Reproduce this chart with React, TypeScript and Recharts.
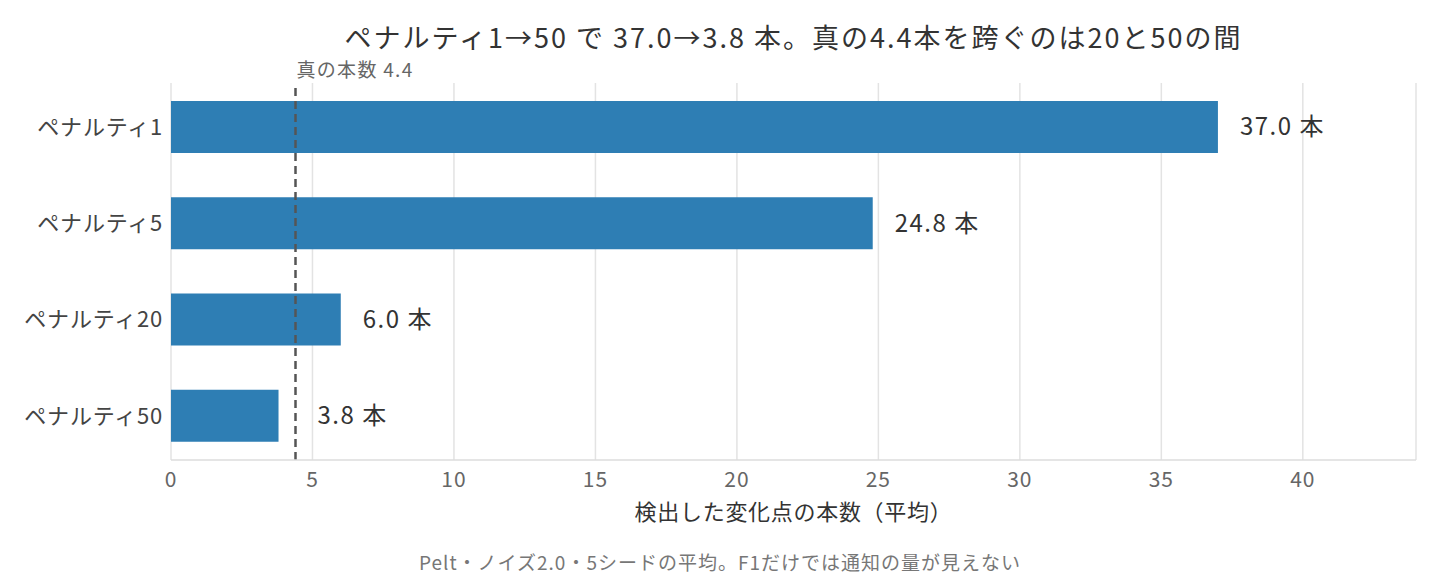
import React from "react";
import { BarChart, Bar, XAxis, YAxis, CartesianGrid, ReferenceLine, LabelList } from "recharts";

const categories = ["ペナルティ1", "ペナルティ5", "ペナルティ20", "ペナルティ50"];
const counts = [37.0, 24.8, 6.0, 3.8];
const xTicks = [0, 5, 10, 15, 20, 25, 30, 35, 40];
const trueCount = 4.4;
const titleText = "ペナルティ1→50 で 37.0→3.8 本。真の4.4本を跨ぐのは20と50の間";
const xLabel = "検出した変化点の本数（平均）";
const footnote = "Pelt・ノイズ2.0・5シードの平均。F1だけでは通知の量が見えない";
const refLabel = "真の本数 4.4";

const data = categories.map((c, i) => ({ name: c, value: counts[i] }));

const FONT = '"Noto Sans CJK JP", "Noto Sans", sans-serif';

const RefLabel = (props: any) => {
  const { viewBox } = props;
  return (
    <text x={viewBox.x + 1} y={viewBox.y - 6} fill="#666" fontSize={19} letterSpacing={1.3} fontFamily={FONT} textAnchor="start">
      {refLabel}
    </text>
  );
};

const BarValueLabel = (props: any) => {
  const { x, y, width, height, value } = props;
  const v = Number(value);
  const end = Number(x) + Number(width);
  const refPx = Number(x) + (Number(width) * trueCount) / v;
  const lx = Math.max(end, refPx) + 22;
  return (
    <text
      x={lx}
      y={Number(y) + Number(height) / 2}
      dy="0.35em"
      fill="#333"
      fontSize={24}
      letterSpacing={1.5}
      fontFamily={FONT}
      textAnchor="start"
    >
      {`${v.toFixed(1)} 本`}
    </text>
  );
};

export default function App() {
  return (
    <div style={{ position: "absolute", left: 0, top: 0, width: 1440, height: 576, background: "#fff", fontFamily: FONT }}>
      <div style={{ position: "absolute", left: 171, width: 1245, top: 23, textAlign: "center", fontSize: 27, letterSpacing: 2, color: "#333", whiteSpace: "nowrap", lineHeight: "28px" }}>
        {titleText}
      </div>
      <BarChart
        width={1440}
        height={576}
        data={data}
        layout="vertical"
        margin={{ top: 83, right: 24, bottom: 86, left: 21 }}
        barCategoryGap={0}
      >
        <CartesianGrid horizontal={false} vertical={true} stroke="#e3e3e3" strokeWidth={1.5} />
        <XAxis
          type="number"
          dataKey="value"
          domain={[0, 44]}
          ticks={xTicks}
          allowDataOverflow
          height={30}
          tickSize={0}
          tickMargin={12}
          axisLine={{ stroke: "#dddddd", strokeWidth: 1.5 }}
          tick={{ fill: "#666", fontSize: 21, letterSpacing: 1, fontFamily: FONT }}
          label={{ value: xLabel, position: "bottom", offset: 14, fill: "#333", fontSize: 22, letterSpacing: 0.7, fontFamily: FONT }}
        />
        <YAxis
          type="category"
          dataKey="name"
          width={150}
          padding={{ top: -4, bottom: -4 } as any}
          tickSize={0}
          tickMargin={8}
          axisLine={false}
          tick={{ fill: "#444", fontSize: 22, letterSpacing: 0.8, fontFamily: FONT }}
        />
        <Bar dataKey="value" fill="#2E7EB4" barSize={52} isAnimationActive={false}>
          <LabelList dataKey="value" content={<BarValueLabel />} />
        </Bar>
        <ReferenceLine
          x={trueCount}
          stroke="#555"
          strokeWidth={2.5}
          strokeDasharray="8 5"
          label={<RefLabel />}
        />
      </BarChart>
      <div style={{ position: "absolute", left: 0, width: 1440, top: 548, textAlign: "center", fontSize: 19, letterSpacing: 1, color: "#777", whiteSpace: "nowrap" }}>
        {footnote}
      </div>
    </div>
  );
}
